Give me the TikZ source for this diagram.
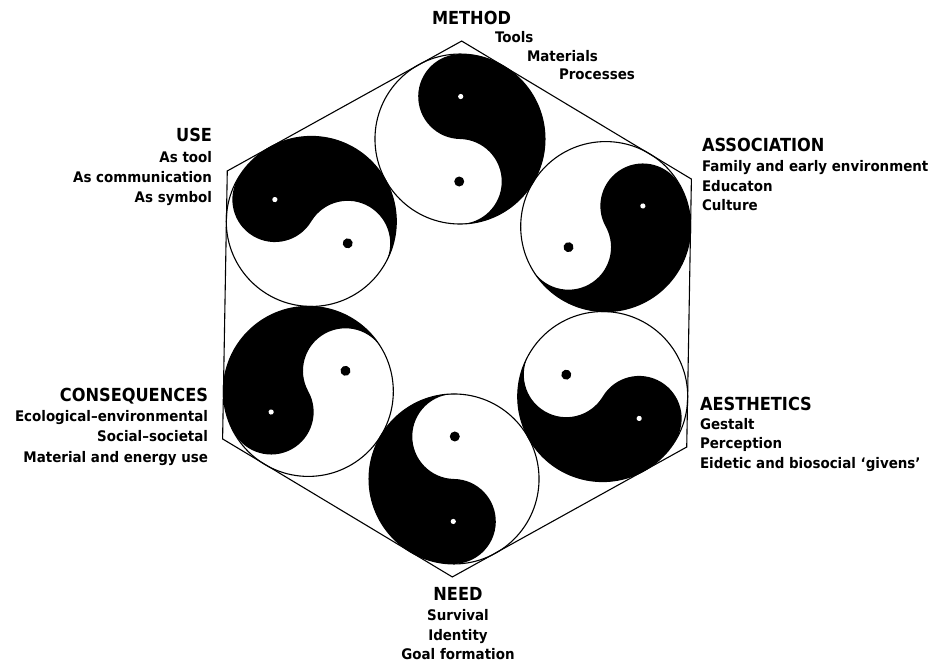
\documentclass[tikz,border=0pt]{standalone}
\usepackage{fontspec}
\setmainfont{DejaVu Sans}
\newfontfamily\headfnt{DejaVu Sans}[FakeStretch=0.9]
\newfontfamily\subfnt{DejaVu Sans}[FakeStretch=0.92]
\begin{document}
\begin{tikzpicture}[x=1pt,y=1pt,
  head/.style={font=\headfnt\bfseries\fontsize{18}{20}\selectfont, inner sep=0pt, outer sep=0pt},
  sub/.style={font=\subfnt\bfseries\fontsize{14.6}{17}\selectfont, inner sep=0pt, outer sep=0pt},
  hexline/.style={draw=black, line width=1.1pt, line join=miter},
  ring/.style={circle, draw=black, line width=1.1pt, minimum size=170pt, inner sep=0pt, outer sep=0pt}]
\useasboundingbox (0,0) rectangle (931,663);
\fill[white] (0,0) rectangle (931,663);
\begin{scope}[shift={(457,354)}, rotate=-1]
  \coordinate (hc) at (0,0);
  \draw[hexline] (90:268) -- (30:268) -- (-30:268) -- (-90:268) -- (210:268) -- (150:268) -- cycle;
  \foreach \a/\n in {90/method,30/assoc,-30/aesth,-90/need,210/conseq,150/use}{
    \begin{scope}[shift={(\a:170)}, rotate=\a-90]
      \fill[black] (0,85) arc[start angle=90,end angle=-90,radius=85]
        arc[start angle=-90,end angle=90,radius=42.5]
        arc[start angle=-90,end angle=-270,radius=42.5] -- cycle;
      \fill[white] (0,42.5) circle[radius=2.6];
      \fill[black] (0,-42.5) circle[radius=5];
    \end{scope}
    \node[ring] (\n) at (\a:170) {};
  }
\end{scope}
% METHOD
\node[head, anchor=base west] (mh) at (432,638) {METHOD};
\node[sub, anchor=base west] (m1) at (495,620) {Tools};
\node[sub, anchor=base west] (m2) at (527,601) {Materials};
\node[sub, anchor=base west] (m3) at (559,583) {Processes};
% USE
\node[head, anchor=base east] (uh) at (212,521) {USE};
\node[sub, anchor=base east] (u1) at (212,500) {As tool};
\node[sub, anchor=base east] (u2) at (212,480) {As communication};
\node[sub, anchor=base east] (u3) at (212,460) {As symbol};
% ASSOCIATION
\node[head, anchor=base west] (ah) at (702,511) {ASSOCIATION};
\node[sub, anchor=base west] (a1) at (702,491) {Family and early environment};
\node[sub, anchor=base west] (a2) at (702,471) {Educaton};
\node[sub, anchor=base west] (a3) at (702,452) {Culture};
% CONSEQUENCES
\node[head, anchor=base east] (ch) at (208,261) {CONSEQUENCES};
\node[sub, anchor=base east] (c1) at (208,241) {Ecological–environmental};
\node[sub, anchor=base east] (c2) at (208,221) {Social–societal};
\node[sub, anchor=base east] (c3) at (208,200) {Material and energy use};
% AESTHETICS
\node[head, anchor=base west] (eh) at (700,252) {AESTHETICS};
\node[sub, anchor=base west] (e1) at (700,233) {Gestalt};
\node[sub, anchor=base west] (e2) at (700,214) {Perception};
\node[sub, anchor=base west] (e3) at (700,194) {Eidetic and biosocial ‘givens’};
% NEED
\node[head, anchor=base] (nh) at (458,62) {NEED};
\node[sub, anchor=base] (n1) at (458,42) {Survival};
\node[sub, anchor=base] (n2) at (458,22) {Identity};
\node[sub, anchor=base] (n3) at (458,3) {Goal formation};
\end{tikzpicture}
\end{document}
